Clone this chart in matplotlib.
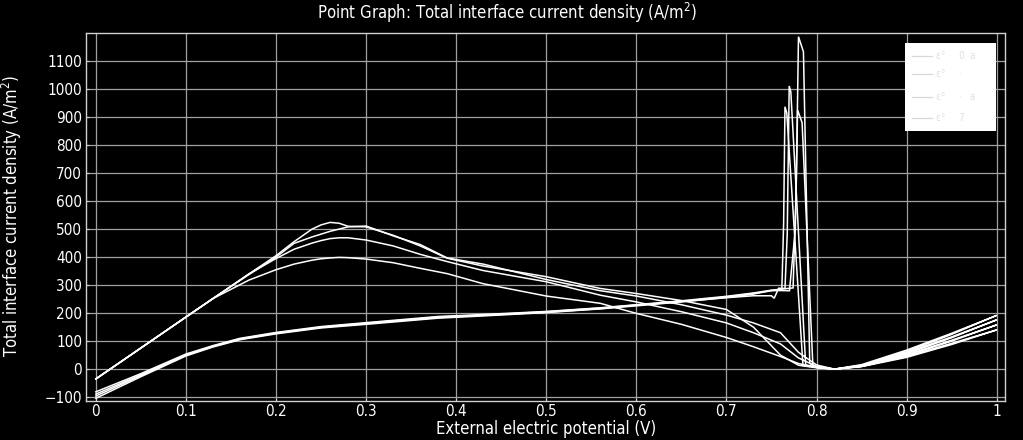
import matplotlib
matplotlib.use("Agg")
import matplotlib.pyplot as plt
from matplotlib import font_manager
from matplotlib.patches import Rectangle
from matplotlib.lines import Line2D

# ---------------- data ----------------
fwd_x = [0.00, 0.10, 0.13, 0.17, 0.20, 0.22, 0.24, 0.25, 0.26, 0.27, 0.28, 0.30, 0.33, 0.36,
         0.39, 0.43, 0.50, 0.56, 0.60, 0.65, 0.70, 0.73, 0.76, 0.78, 0.80, 0.82, 0.85, 0.90,
         0.95, 1.00]
fwd_1 = [-35, 186, 252, 340, 405, 455, 500, 515, 524, 521, 510, 508, 478, 440,
         396, 368, 330, 288, 270, 245, 213, 150, 50, 14, 5, 0, 16, 68, 128, 192]
fwd_2 = [-35, 186, 252, 338, 400, 449, 472, 482, 492, 500, 508, 511, 476, 445,
         397, 375, 320, 280, 261, 230, 193, 165, 130, 60, 15, 0, 14, 60, 115, 176]
fwd_3 = [-35, 186, 252, 340, 395, 428, 450, 459, 466, 469, 469, 461, 440, 410,
         384, 352, 312, 264, 240, 205, 165, 130, 90, 40, 10, 0, 12, 52, 103, 158]
fwd_4 = [-35, 186, 252, 318, 355, 375, 389, 394, 397, 399, 398, 393, 380, 360,
         341, 305, 261, 235, 199, 160, 113, 80, 45, 20, 6, 0, 10, 46, 92, 140]

rev_x_hi = [1.00, 0.95, 0.90, 0.85, 0.82, 0.80]
rev_hi_1 = [192, 124, 62, 12, 0, 8]
rev_hi_2 = [176, 112, 55, 11, 0, 7]
rev_hi_3 = [158, 100, 48, 10, 0, 7]
rev_hi_4 = [140, 88, 42, 9, 0, 6]

spike_x_1 = [0.7925, 0.7855, 0.7800, 0.7775, 0.7740]
spike_y_1 = [20, 1133, 1187, 650, 290]
spike_x_2 = [0.7880, 0.7715, 0.7697, 0.7675, 0.7650, 0.7580, 0.7530]
spike_y_2 = [15, 990, 1011, 480, 288, 289, 253]
spike_x_3 = [0.7850, 0.7670, 0.7650, 0.7635, 0.7615]
spike_y_3 = [12, 915, 937, 520, 283]
spike_x_4 = [0.7960, 0.7840, 0.7790, 0.7765, 0.7700]
spike_y_4 = [10, 880, 925, 500, 280]

rev_x_lo = [0.75, 0.73, 0.70, 0.65, 0.60, 0.56, 0.50, 0.43, 0.38, 0.30, 0.25, 0.20,
            0.16, 0.13, 0.10, 0.05, 0.00]
rev_lo_1 = [282, 272, 260, 244, 230, 219, 206, 195, 188, 166, 152, 131, 110, 84, 54, -16, -81]
rev_lo_2 = [262, 262, 255, 241, 228, 216, 203, 192, 184, 163, 149, 128, 107, 81, 51, -20, -89]
rev_lo_3 = [280, 270, 258, 242, 229, 218, 205, 193, 186, 164, 150, 129, 108, 82, 50, -23, -96]
rev_lo_4 = [281, 268, 256, 240, 226, 215, 202, 190, 182, 160, 147, 126, 105, 79, 47, -27, -104]

x_ticks = [0, 0.1, 0.2, 0.3, 0.4, 0.5, 0.6, 0.7, 0.8, 0.9, 1]
x_tick_labels = ["0", "0.1", "0.2", "0.3", "0.4", "0.5", "0.6", "0.7", "0.8", "0.9", "1"]
y_ticks = [-100, 0, 100, 200, 300, 400, 500, 600, 700, 800, 900, 1000, 1100]

legend_labels = ["ε°     0  a", "ε°     ·", "ε°     ·   a", "ε°     7"]

title = "Point Graph: Total interface current density (A/m$^2$)"
x_label = "External electric potential (V)"
y_label = "Total interface current density (A/m$^2$)"

# ---------------- fonts ----------------
fl = font_manager.fontManager.ttflist
if any(f.name == "DejaVu Sans" and f.stretch == "condensed" for f in fl):
    plt.rcParams["font.family"] = ["DejaVu Sans"]
    plt.rcParams["font.stretch"] = "condensed"
elif any(f.name == "Liberation Sans Narrow" for f in fl):
    plt.rcParams["font.family"] = ["Liberation Sans Narrow", "DejaVu Sans"]
else:
    plt.rcParams["font.family"] = ["DejaVu Sans"]
plt.rcParams["mathtext.fontset"] = "dejavusans"

# ---------------- figure ----------------
W, H = 1023, 440
fig = plt.figure(figsize=(W / 100, H / 100), dpi=100, facecolor="black")
ax = fig.add_axes([85.5 / W, 1 - 400.5 / H, 919 / W, 368 / H])
ax.set_facecolor("black")

cycles = [
    (fwd_1, rev_hi_1, spike_x_1, spike_y_1, rev_lo_1),
    (fwd_2, rev_hi_2, spike_x_2, spike_y_2, rev_lo_2),
    (fwd_3, rev_hi_3, spike_x_3, spike_y_3, rev_lo_3),
    (fwd_4, rev_hi_4, spike_x_4, spike_y_4, rev_lo_4),
]
for fy, rhi, sx, sy, rlo in cycles:
    xs = list(fwd_x) + list(rev_x_hi) + list(sx) + list(rev_x_lo)
    ys = list(fy) + list(rhi) + list(sy) + list(rlo)
    ax.plot(xs, ys, color="white", lw=1.1, zorder=3, solid_joinstyle="miter")

ax.set_xlim(-0.0115, 1.0087)
ax.set_ylim(-112, 1202)
ax.set_xticks(x_ticks)
ax.set_xticklabels(x_tick_labels)
ax.set_yticks(y_ticks)
ax.grid(True, color="#a0a0a0", lw=0.9, zorder=1)
ax.set_axisbelow(True)
for s in ax.spines.values():
    s.set_color("#d0d0d0")
    s.set_linewidth(1.0)
ax.tick_params(colors="#d0d0d0", labelcolor="white", labelsize=11, length=2, pad=2.5,
               direction="in")

# legend box (white, faint entries)
ax.add_patch(Rectangle((0.892, 0.733), 0.0987, 0.2385, transform=ax.transAxes,
                       facecolor="white", edgecolor="none", zorder=6))
rows = [0.937, 0.886, 0.825, 0.769]
for ry, lab in zip(rows, legend_labels):
    ax.add_line(Line2D([0.8993, 0.9211], [ry, ry], transform=ax.transAxes,
                       color="#d8d8d8", lw=0.9, zorder=7))
    ax.text(0.926, ry, lab, transform=ax.transAxes, color="#e0e0e0", fontsize=7,
            va="center", ha="left", zorder=7)

fig.text(507.5 / W, 1 - 13 / H, title, color="white", fontsize=12, ha="center", va="center")
fig.text(546 / W, 1 - 429 / H, x_label, color="white", fontsize=12, ha="center", va="center")
fig.text(12 / W, 1 - 216 / H, y_label, color="white", fontsize=12, ha="center", va="center",
         rotation=90)

fig.savefig("out.png", dpi=100, facecolor="black")
